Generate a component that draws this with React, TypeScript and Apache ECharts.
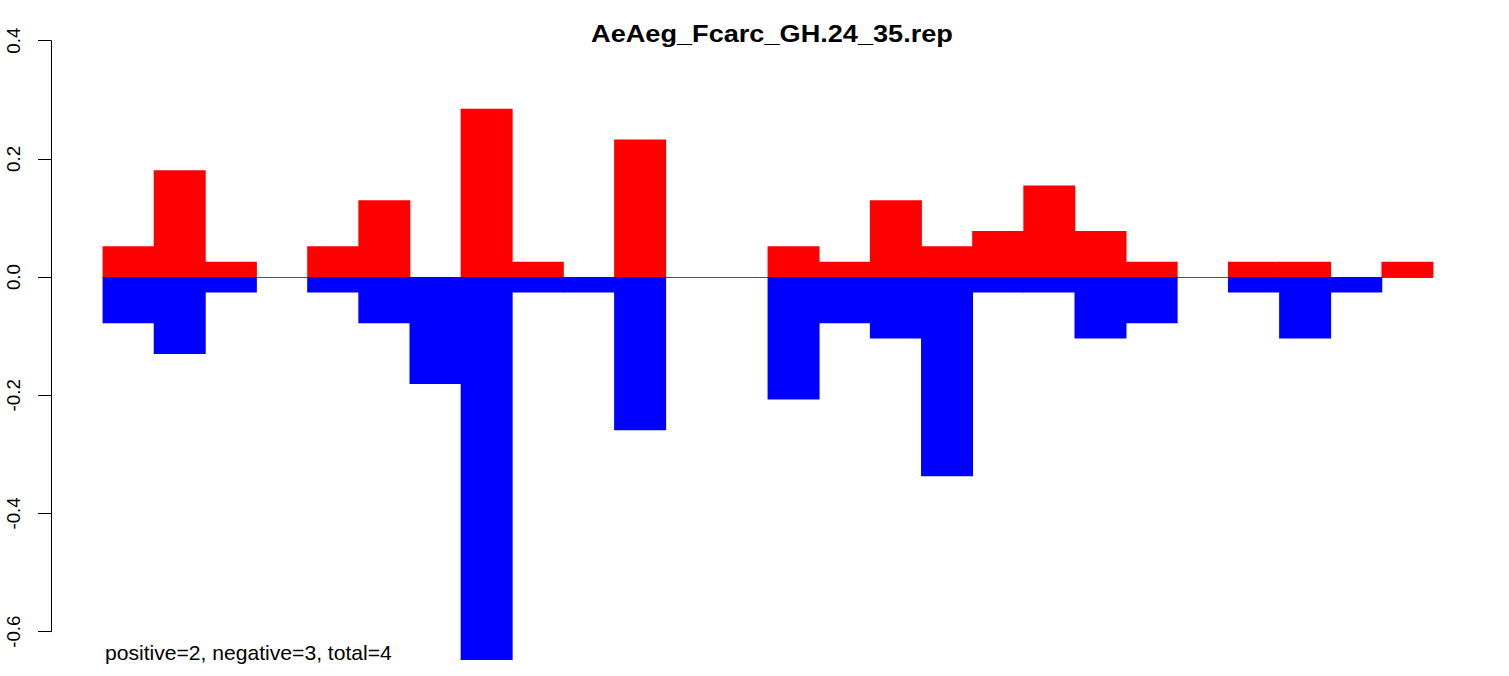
import React, { useEffect, useRef } from "react";
import * as echarts from "echarts";

const TITLE = "AeAeg_Fcarc_GH.24_35.rep";
const NOTE = "positive=2, negative=3, total=4";

const BINS = [
  "1", "2", "3", "4", "5", "6", "7", "8", "9", "10", "11", "12", "13",
  "14", "15", "16", "17", "18", "19", "20", "21", "22", "23", "24", "25", "26",
];

const POSITIVE = [
  0.052, 0.181, 0.026, 0, 0.052, 0.13, 0, 0.285, 0.026, 0, 0.233, 0, 0,
  0.052, 0.026, 0.13, 0.052, 0.078, 0.155, 0.078, 0.026, 0, 0.026, 0.026, 0, 0.026,
];

const NEGATIVE = [
  -0.078, -0.13, -0.026, 0, -0.026, -0.078, -0.181, -0.648, -0.026, -0.026, -0.259, 0, 0,
  -0.207, -0.078, -0.104, -0.337, -0.026, -0.026, -0.104, -0.078, 0, -0.026, -0.104, -0.026, 0,
];

const Y_TICK_LABELS = ["-0.6", "-0.4", "-0.2", "0.0", "0.2", "0.4"];

const FONT = '"Liberation Sans", Arial, Helvetica, sans-serif';

export default function App() {
  const ref = useRef<HTMLDivElement>(null);

  useEffect(() => {
    if (!ref.current) return;
    const chart = echarts.init(ref.current, null, { renderer: "svg" });
    chart.setOption({
      animation: false,
      backgroundColor: "#ffffff",
      grid: { left: 103, right: 76, top: 40.7, bottom: 44.3, containLabel: false },
      xAxis: {
        type: "category",
        data: BINS,
        boundaryGap: true,
        axisLine: { show: true, onZero: true, lineStyle: { color: "#555555", width: 1 } },
        axisTick: { show: false },
        axisLabel: { show: false },
        splitLine: { show: false },
      },
      yAxis: {
        type: "value",
        min: -0.6,
        max: 0.4,
        interval: 0.2,
        offset: 52,
        axisLine: { show: true, lineStyle: { color: "#000000", width: 1 } },
        axisTick: { show: true, length: 13, lineStyle: { color: "#000000", width: 1 } },
        axisLabel: {
          rotate: 90,
          margin: 28,
          fontSize: 18.7,
          color: "#000000",
          fontFamily: FONT,
          formatter: (v: number) => {
            const s = v.toFixed(1);
            const found = Y_TICK_LABELS.find((t) => t === s || (s === "-0.0" && t === "0.0"));
            return found ?? s;
          },
        },
        splitLine: { show: false },
      },
      series: [
        {
          name: "positive",
          type: "bar",
          data: POSITIVE,
          barWidth: 52,
          barGap: "-100%",
          clip: false,
          itemStyle: { color: "#ff0000" },
        },
        {
          name: "negative",
          type: "bar",
          data: NEGATIVE,
          barWidth: 52,
          barGap: "-100%",
          clip: false,
          itemStyle: { color: "#0000ff" },
        },
      ],
      graphic: [
        {
          type: "text",
          x: 772,
          y: 33.5,
          scaleX: 1.18,
          style: {
            text: TITLE,
            font: `bold 23px ${FONT}`,
            textAlign: "center",
            textVerticalAlign: "middle",
            fill: "#000000",
          },
        },
        {
          type: "text",
          x: 105,
          y: 653,
          scaleX: 1.056,
          style: {
            text: NOTE,
            font: `20px ${FONT}`,
            textAlign: "left",
            textVerticalAlign: "middle",
            fill: "#000000",
          },
        },
      ],
    });
    return () => chart.dispose();
  }, []);

  return (
    <div
      ref={ref}
      style={{ position: "fixed", left: 0, top: 0, width: 1509, height: 676, background: "#ffffff" }}
    />
  );
}
